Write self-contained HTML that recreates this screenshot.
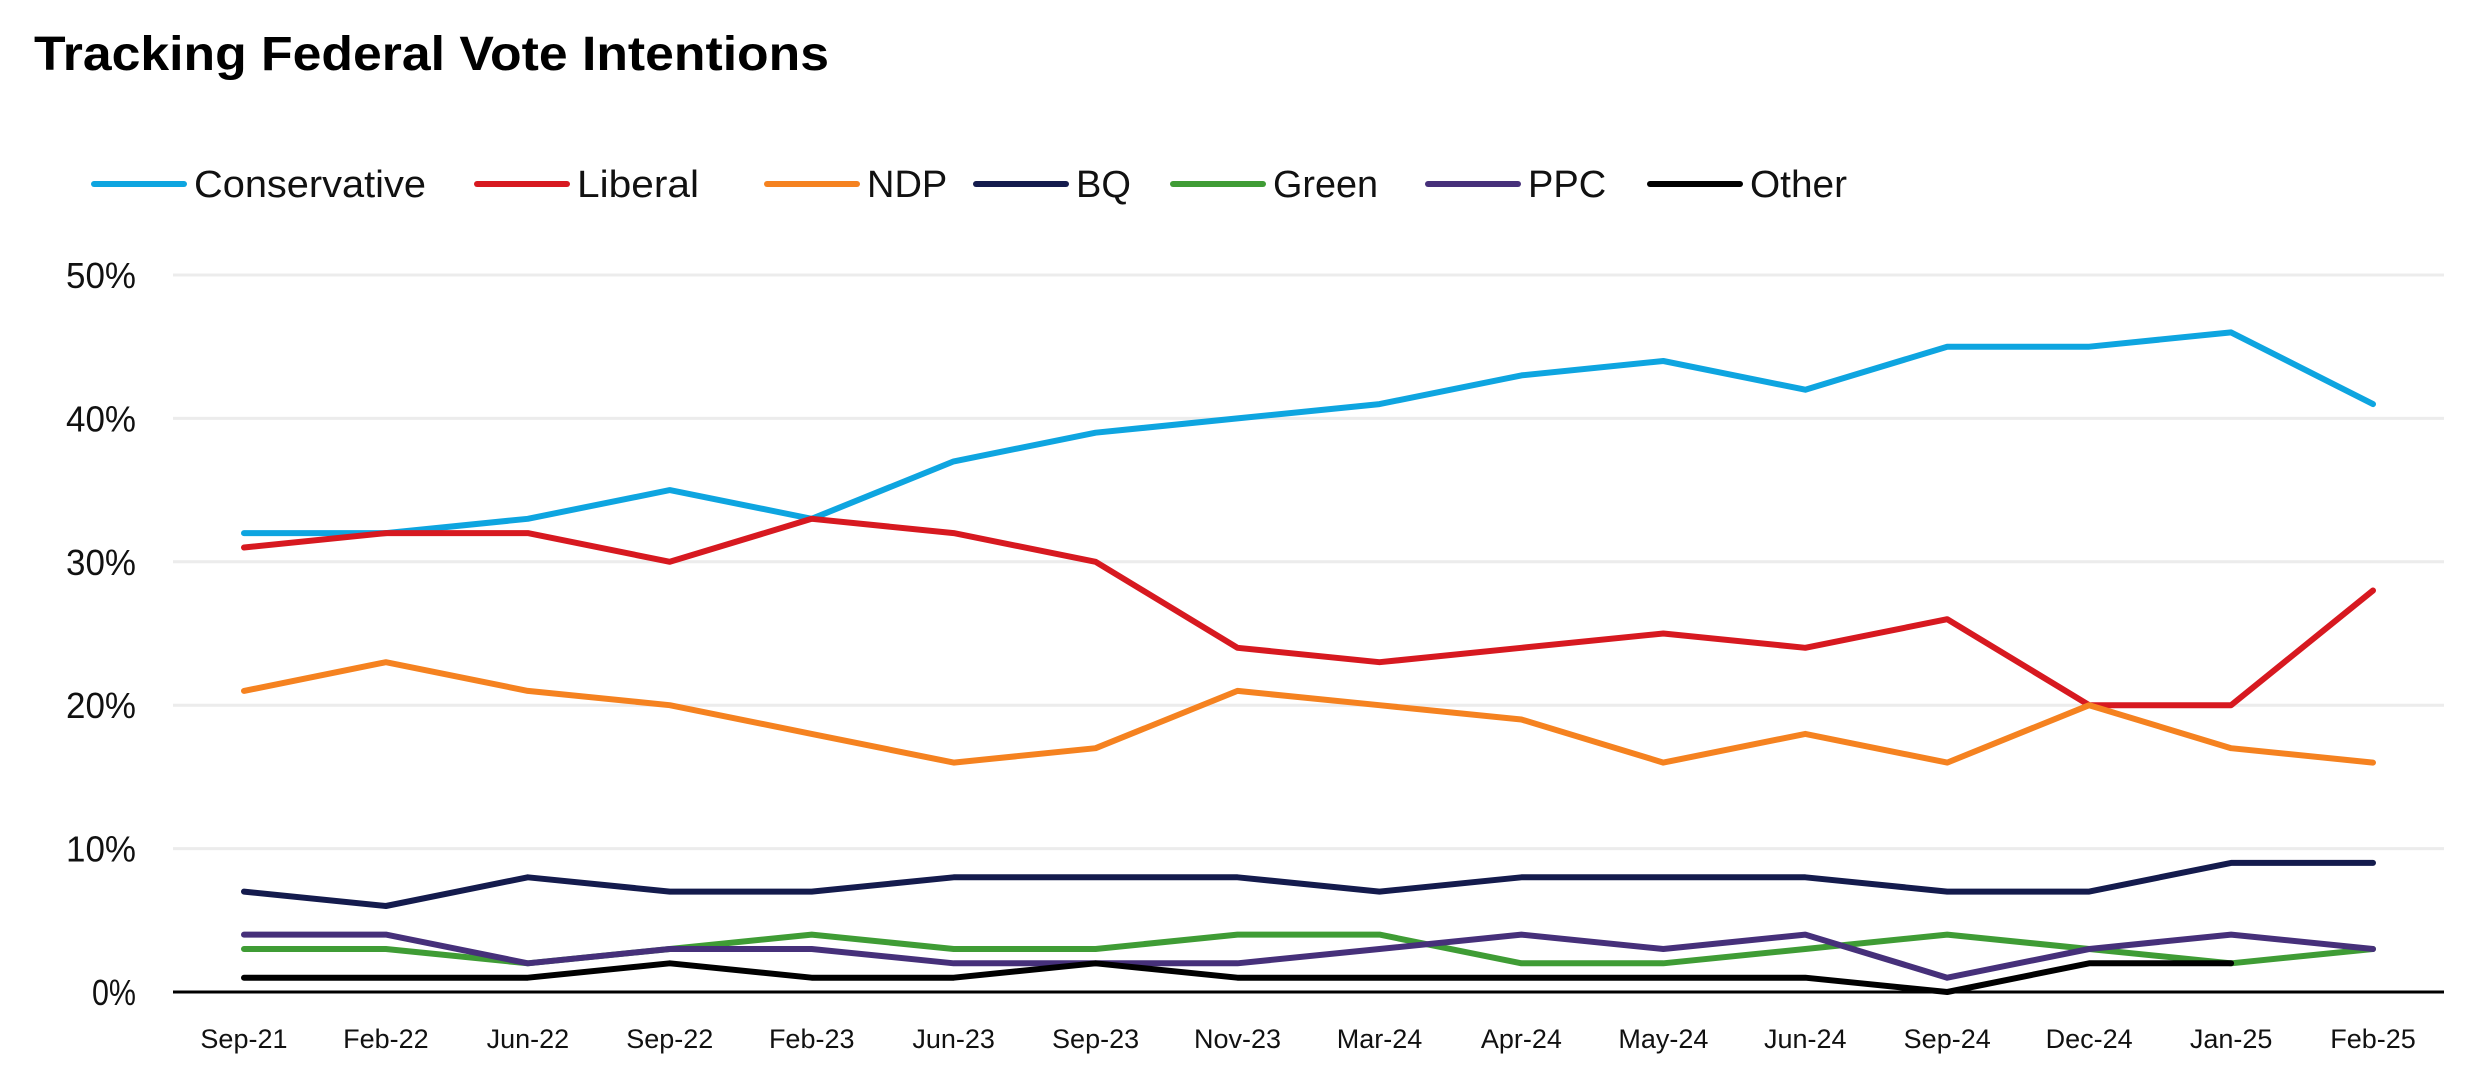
<!DOCTYPE html>
<html><head><meta charset="utf-8"><style>
html,body{margin:0;padding:0;background:#fff;}
svg{display:block;font-family:"Liberation Sans Narrow","Liberation Sans",sans-serif;}
</style></head><body>
<svg id="chart" width="2469" height="1069" viewBox="0 0 2469 1069" xmlns="http://www.w3.org/2000/svg">
<text x="34" y="70" font-family="Liberation Sans, sans-serif" font-weight="bold" font-size="48" textLength="795" lengthAdjust="spacingAndGlyphs" fill="#000">Tracking Federal Vote Intentions</text>
<g id="grid"></g><g id="lines"></g><g id="legend"></g><g id="xlabels"></g>
</svg>
<script>
const categories=["Sep-21","Feb-22","Jun-22","Sep-22","Feb-23","Jun-23","Sep-23","Nov-23","Mar-24","Apr-24","May-24","Jun-24","Sep-24","Dec-24","Jan-25","Feb-25"];
const yTicks=[0,10,20,30,40,50];
const seriesNames=["Conservative","Liberal","NDP","BQ","Green","PPC","Other"];
const conservative=[32,32,33,35,33,37,39,40,41,43,44,42,45,45,46,41];
const liberal=[31,32,32,30,33,32,30,24,23,24,25,24,26,20,20,28];
const ndp=[21,23,21,20,18,16,17,21,20,19,16,18,16,20,17,16];
const bq=[7,6,8,7,7,8,8,8,7,8,8,8,7,7,9,9];
const green=[3,3,2,3,4,3,3,4,4,2,2,3,4,3,2,3];
const ppc=[4,4,2,3,3,2,2,2,3,4,3,4,1,3,4,3];
const other=[1,1,1,2,1,1,2,1,1,1,1,1,0,2,2,null];
const allSeries=[conservative,liberal,ndp,bq,green,ppc,other];
const colors=["#0ea5e0","#d71920","#f58220","#141b4d","#3f9c35","#46307a","#000000"];
const legendX=[94,477,767,976,1173,1428,1650];
const legendW=[232,122,0,0,105,0,97];

const NS="http://www.w3.org/2000/svg";
const L=173,R=2444,Y0=992,Y50=275;
const band=(R-L)/categories.length;
const xS=i=>L+band*(i+0.5);
const yS=v=>Y0-(Y0-Y50)*v/50;
function mk(tag,attrs,parent){const e=document.createElementNS(NS,tag);for(const k in attrs)e.setAttribute(k,attrs[k]);parent.appendChild(e);return e;}
const grid=document.getElementById('grid');
yTicks.forEach(t=>{
  if(t>0){const g=mk('line',{x1:L,x2:R,y1:yS(t),y2:yS(t),stroke:'#ececec','stroke-width':3},grid);
  
  }
  const tx=mk('text',{x:136,y:yS(t)+13,'text-anchor':'end','font-size':36,fill:'#111',textLength:t===0?44:70,lengthAdjust:'spacingAndGlyphs'},grid);
  tx.textContent=t+'%';
  
  
});
const ax=mk('line',{x1:L,x2:R,y1:Y0,y2:Y0,stroke:'#000','stroke-width':3},grid);


const xl=document.getElementById('xlabels');
categories.forEach((c,i)=>{
  const t=mk('text',{x:xS(i),y:1048,'text-anchor':'middle','font-size':27,fill:'#111'},xl);
  t.textContent=c;
  
  
});
const lines=document.getElementById('lines');
allSeries.forEach((s,k)=>{
  let d='';let pen=false;
  s.forEach((v,i)=>{if(v===null){pen=false;return;}d+=(pen?'L':'M')+xS(i).toFixed(1)+' '+yS(v).toFixed(1)+' ';pen=true;});
  const p=mk('path',{d:d,fill:'none',stroke:colors[k],'stroke-width':6,'stroke-linejoin':'round','stroke-linecap':'round'},lines);
  
  
});
const lg=document.getElementById('legend');
seriesNames.forEach((n,k)=>{
  const g=mk('g',{},lg);
  
  
  mk('line',{x1:legendX[k],x2:legendX[k]+90,y1:184,y2:184,stroke:colors[k],'stroke-width':6,'stroke-linecap':'round'},g);
  const at={x:legendX[k]+100,y:197,'font-size':38,fill:'#111'};
  if(legendW[k]>0){at.textLength=legendW[k];at.lengthAdjust='spacingAndGlyphs';}
  const t=mk('text',at,g);
  t.textContent=n;
});
</script>
</body></html>
